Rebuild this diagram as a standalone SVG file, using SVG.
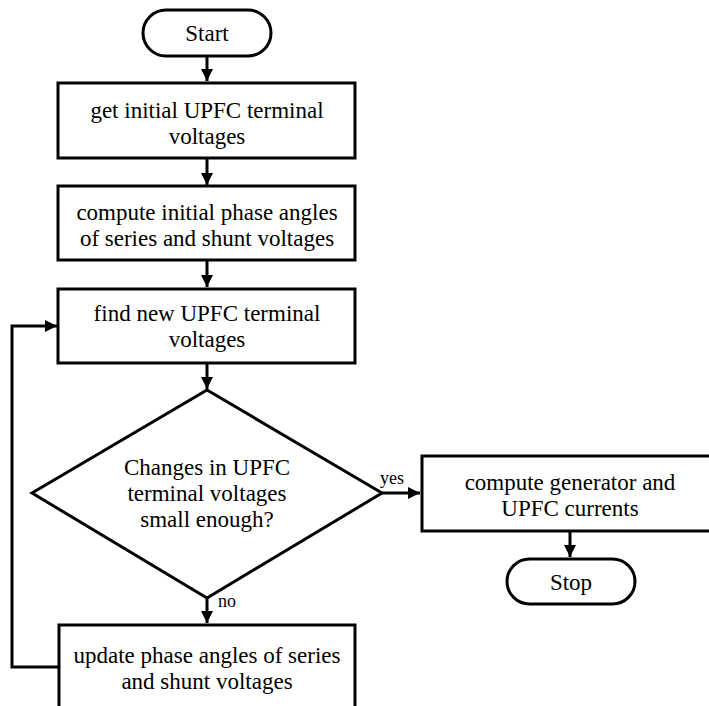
<svg xmlns="http://www.w3.org/2000/svg" width="709" height="706" viewBox="0 0 709 706">
<defs>
<marker id="ah" viewBox="0 0 10 10" refX="10" refY="5" markerWidth="4" markerHeight="4" markerUnits="strokeWidth" orient="auto">
<path d="M0,0 L10,5 L0,10 z" fill="#000"/>
</marker>
<style>
.s{fill:#fff;stroke:#000;stroke-width:3}
.t{font-family:"Liberation Serif","Times New Roman",serif;font-size:23px;fill:#000;text-anchor:middle}
.l{font-family:"Liberation Serif","Times New Roman",serif;font-size:18px;fill:#000}
.c{fill:none;stroke:#000;stroke-width:3}
</style>
</defs>
<rect width="709" height="706" fill="#fff"/>
<g id="connectors">
<path class="c" d="M207,57 V81" marker-end="url(#ah)"/>
<path class="c" d="M207,158 V185" marker-end="url(#ah)"/>
<path class="c" d="M207,260 V287" marker-end="url(#ah)"/>
<path class="c" d="M207,363 V389" marker-end="url(#ah)"/>
<path class="c" d="M382,493 H420" marker-end="url(#ah)"/>
<path class="c" d="M570,531 V557" marker-end="url(#ah)"/>
<path class="c" d="M207,598 V623" marker-end="url(#ah)"/>
<path class="c" d="M58,667 H12 V326 H57" marker-end="url(#ah)"/>
<text class="l" x="380" y="484">yes</text>
<text class="l" x="218" y="607">no</text>
</g>
<g id="start">
<rect class="s" x="143" y="10" width="128" height="46" rx="23"/>
<text class="t" x="207" y="41">Start</text>
</g>
<g id="get-initial">
<rect class="s" x="58" y="83" width="297" height="75"/>
<text class="t" x="207" y="118">get initial UPFC terminal</text>
<text class="t" x="207" y="144">voltages</text>
</g>
<g id="compute-initial">
<rect class="s" x="58" y="186" width="297" height="74"/>
<text class="t" x="207" y="220">compute initial phase angles</text>
<text class="t" x="207" y="246">of series and shunt voltages</text>
</g>
<g id="find-new">
<rect class="s" x="58" y="289" width="297" height="74"/>
<text class="t" x="207" y="321">find new UPFC terminal</text>
<text class="t" x="207" y="347">voltages</text>
</g>
<g id="decision">
<polygon class="s" points="207,390 382,493 207,598 32,493"/>
<text class="t" x="207" y="475">Changes in UPFC</text>
<text class="t" x="207" y="501">terminal voltages</text>
<text class="t" x="207" y="527">small enough?</text>
</g>
<g id="compute-gen">
<rect class="s" x="422" y="456" width="292" height="75"/>
<text class="t" x="570" y="490">compute generator and</text>
<text class="t" x="570" y="516">UPFC currents</text>
</g>
<g id="stop">
<rect class="s" x="507" y="559" width="128" height="45" rx="22.5"/>
<text class="t" x="571" y="590">Stop</text>
</g>
<g id="update">
<rect class="s" x="59" y="625" width="296" height="90"/>
<text class="t" x="207" y="663">update phase angles of series</text>
<text class="t" x="207" y="689">and shunt voltages</text>
</g>
</svg>
